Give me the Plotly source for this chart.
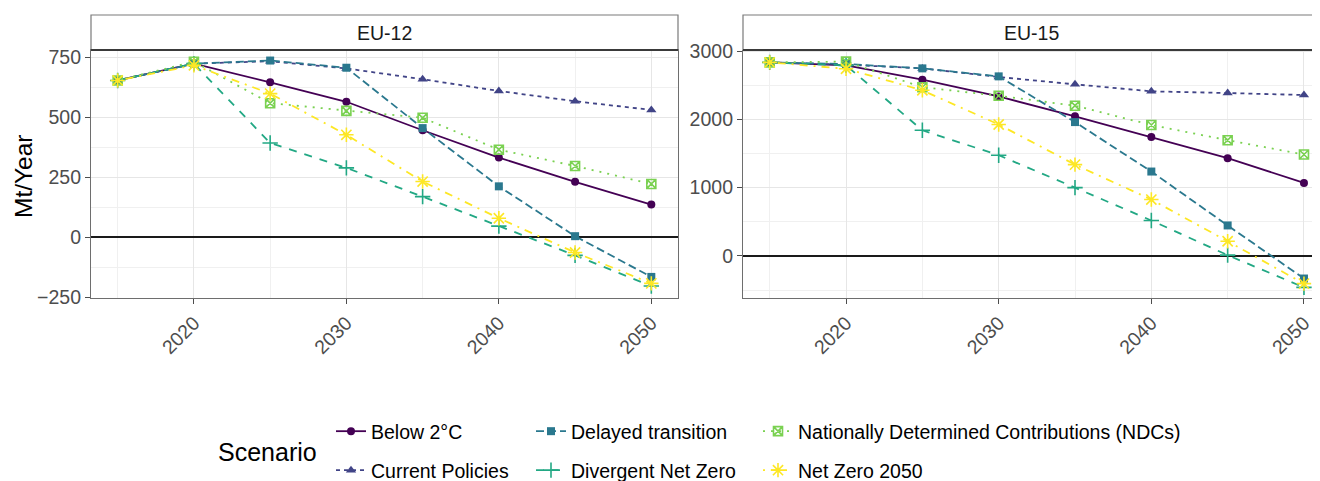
import plotly.graph_objects as go

W, H = 1320, 481
OFF = 8  # page body margin: figure is drawn 8px right/down of the viewport origin

years = [2015, 2020, 2025, 2030, 2035, 2040, 2045, 2050]
scenarios = [
    "Below 2°C",
    "Current Policies",
    "Delayed transition",
    "Divergent Net Zero",
    "Nationally Determined Contributions (NDCs)",
    "Net Zero 2050",
]
regions = ["EU-12", "EU-15"]

# EU-12 values (Mt/Year)
eu12_below2 = [655, 725, 647, 566, 447, 333, 232, 137]
eu12_current = [655, 725, 735, 705, 660, 611, 568, 532]
eu12_delayed = [655, 725, 738, 708, 456, 213, 5, -165]
eu12_divergent = [655, 725, 394, 290, 170, 47, -75, -203]
eu12_ndc = [655, 733, 560, 528, 499, 366, 298, 223]
eu12_nz2050 = [655, 718, 600, 428, 233, 80, -63, -192]

# EU-15 values (Mt/Year)
eu15_below2 = [2834, 2790, 2580, 2335, 2044, 1740, 1432, 1070]
eu15_current = [2834, 2800, 2746, 2620, 2512, 2410, 2385, 2356]
eu15_delayed = [2834, 2810, 2746, 2629, 1960, 1236, 447, -330]
eu15_divergent = [2834, 2790, 1840, 1475, 1000, 520, 12, -460]
eu15_ndc = [2834, 2845, 2470, 2345, 2200, 1917, 1695, 1485]
eu15_nz2050 = [2834, 2740, 2425, 1925, 1337, 826, 215, -405]

eu12 = [eu12_below2, eu12_current, eu12_delayed, eu12_divergent, eu12_ndc, eu12_nz2050]
eu15 = [eu15_below2, eu15_current, eu15_delayed, eu15_divergent, eu15_ndc, eu15_nz2050]

colors = ["#440154", "#414487", "#2A788E", "#22A884", "#7AD151", "#FDE725"]
dashes = ["solid", "4px,4px", "8px,4px", "8px,8px", "2px,6px", "2px,6px,8px,6px"]
symbols = ["circle", "triangle-up", "square", "cross-thin-open", "square-x-open", "asterisk-open"]
msizes = [8, 9, 8, 11, 9, 12]
# one legend per entry, laid out like ggplot's 2-row grid (column-major)
scen_legend = ["legend", "legend2", "legend3", "legend4", "legend5", "legend6"]
legend_pos = {
    "legend": (371, 431.5),
    "legend2": (371, 470.5),
    "legend3": (571, 431.5),
    "legend4": (571, 470.5),
    "legend5": (798, 431.5),
    "legend6": (798, 470.5),
}


def px(x):
    return (x - OFF) / W


def py(y):
    return 1 - (y - OFF) / H


fig = go.Figure()

for panel, (data, xa, ya) in enumerate([(eu12, "x", "y"), (eu15, "x2", "y2")]):
    for i, name in enumerate(scenarios):
        open_sym = symbols[i].endswith("open")
        fig.add_trace(go.Scatter(
            x=years, y=data[i], name=name, mode="lines+markers",
            xaxis=xa, yaxis=ya,
            line=dict(color=colors[i], width=1.8, dash=dashes[i]),
            marker=dict(symbol=symbols[i], size=msizes[i], color=colors[i],
                        line=dict(color=colors[i], width=1.6 if open_sym else 0)),
            showlegend=(panel == 0),
            legend=scen_legend[i],
        ))

PLOT_TOP, PLOT_BOT = 50, 298
ydom = [py(PLOT_BOT), py(PLOT_TOP)]

axis_common = dict(
    showline=True, linecolor="#6e6e6e", linewidth=1.2,
    ticks="outside", ticklen=5, tickwidth=1.2, tickcolor="#4d4d4d",
    tickfont=dict(family="Liberation Sans, Arial", size=19.5, color="#4d4d4d"),
    showgrid=True, gridcolor="#E6E6E6", gridwidth=1.2,
)

fig.update_layout(
    width=W, height=H,
    margin=dict(l=0, r=0, t=0, b=0, pad=0, autoexpand=False),
    paper_bgcolor="white", plot_bgcolor="white",
    font=dict(family="Liberation Sans, Arial", color="black"),
    xaxis=dict(domain=[px(91), px(678)], range=[2013.25, 2051.75],
               tickvals=[2020, 2030, 2040, 2050], tickangle=-45,
               mirror=True, zeroline=False,
               minor=dict(tickvals=[2015, 2025, 2035, 2045], showgrid=True,
                          gridcolor="#F0F0F0", gridwidth=0.9, ticks=""),
               anchor="y", **axis_common),
    yaxis=dict(domain=ydom, range=[-253, 782],
               tickvals=[-250, 0, 250, 500, 750], mirror=True,
               zeroline=True, zerolinecolor="#1a1a1a", zerolinewidth=2,
               minor=dict(tickvals=[-125, 125, 375, 625], showgrid=True,
                          gridcolor="#F0F0F0", gridwidth=0.9, ticks=""),
               anchor="x", **axis_common),
    xaxis2=dict(domain=[px(743), px(1320)], range=[2013.25, 2051.05],
                tickvals=[2020, 2030, 2040, 2050], tickangle=-45,
                mirror=False, zeroline=False,
                minor=dict(tickvals=[2015, 2025, 2035, 2045], showgrid=True,
                           gridcolor="#F0F0F0", gridwidth=0.9, ticks=""),
                anchor="y2", **axis_common),
    yaxis2=dict(domain=ydom, range=[-615, 3015],
                tickvals=[0, 1000, 2000, 3000], mirror=False,
                zeroline=True, zerolinecolor="#1a1a1a", zerolinewidth=2,
                minor=dict(tickvals=[-500, 500, 1500, 2500], showgrid=True,
                           gridcolor="#F0F0F0", gridwidth=0.9, ticks=""),
                anchor="x2", **axis_common),
)

for lid, (tx, ty) in legend_pos.items():
    fig.update_layout({lid: dict(
        x=px(tx - 40), y=py(ty), xanchor="left", yanchor="middle",
        orientation="h", bgcolor="rgba(0,0,0,0)", borderwidth=0,
        font=dict(family="Liberation Sans, Arial", size=19.5, color="black"),
        itemwidth=30,
    )})

strip_h = 35 / (PLOT_BOT - PLOT_TOP)
shapes = []
annotations = []
for xd, yd, label, x1 in [("x domain", "y domain", regions[0], 1.0),
                           ("x2 domain", "y2 domain", regions[1], 1.05)]:
    shapes.append(dict(type="rect", xref=xd, yref=yd, x0=0, x1=x1, y0=1, y1=1 + strip_h,
                       line=dict(color="#7a7a7a", width=1.2), fillcolor="white", layer="above"))
    shapes.append(dict(type="line", xref=xd, yref=yd, x0=0, x1=x1, y0=1, y1=1,
                       line=dict(color="#3a3a3a", width=2.2), layer="above"))
    annotations.append(dict(text=label, xref=xd, yref=yd, x=0.5,
                            y=1 + strip_h / 2, showarrow=False, xanchor="center", yanchor="middle",
                            font=dict(family="Liberation Sans, Arial", size=19.5, color="#1a1a1a")))

annotations.append(dict(text="Mt/Year", xref="paper", yref="paper", x=px(23), y=py(176),
                        textangle=-90, showarrow=False, xanchor="center", yanchor="middle",
                        font=dict(family="Liberation Sans, Arial", size=24.5, color="black")))
annotations.append(dict(text="Scenario", xref="paper", yref="paper", x=px(267), y=py(452),
                        showarrow=False, xanchor="center", yanchor="middle",
                        font=dict(family="Liberation Sans, Arial", size=25, color="black")))

fig.update_layout(shapes=shapes, annotations=annotations)

fig.write_html("out.html")
